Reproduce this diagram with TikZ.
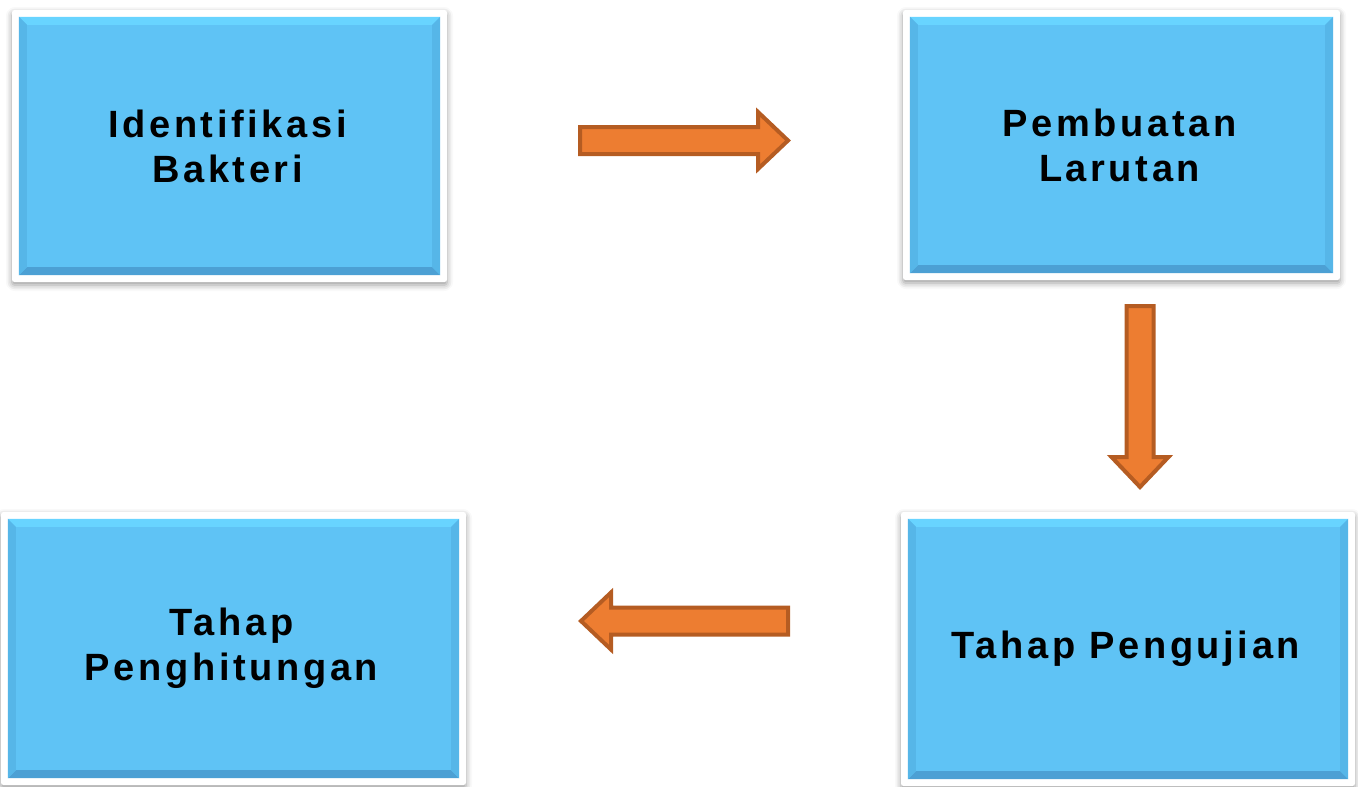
\documentclass[tikz,border=0pt]{standalone}
\usepackage{fontspec}
\newfontfamily\stagefont[LetterSpace=9.5]{Liberation Sans Bold}
\usetikzlibrary{calc,shadows.blur}
\definecolor{boxblue}{RGB}{95,195,245}
\definecolor{bevtop}{RGB}{104,212,255}
\definecolor{bevbot}{RGB}{76,160,212}
\definecolor{bevside}{RGB}{86,182,232}
\definecolor{arrfill}{RGB}{237,125,49}
\definecolor{arrdraw}{RGB}{181,92,34}
\tikzset{
  frame/.style={fill=white, draw=none, rounded corners=2.5pt, inner sep=0pt,
    blur shadow={shadow xshift=0pt, shadow yshift=-3pt, shadow blur radius=6pt, shadow opacity=40}},
  stagetext/.style={align=center, text=black, inner sep=0pt, xshift=-2pt,
    font=\stagefont\fontsize{38}{45}\selectfont},
  barrow/.style={fill=arrfill, draw=arrdraw, line width=4pt, line join=miter},
}
\newcommand\bevelbox[1]{%
  \coordinate (#1i1) at ($(#1.north west)+(7,7)$);
  \coordinate (#1i2) at ($(#1.south east)+(-7,-7)$);
  \fill[boxblue] (#1i1) rectangle (#1i2);
  \fill[bevtop] (#1i1) -- (#1i1 -| #1i2) -- ($(#1i1 -| #1i2)+(-8,8)$) -- ($(#1i1)+(8,8)$) -- cycle;
  \fill[bevbot] (#1i2) -- (#1i2 -| #1i1) -- ($(#1i2 -| #1i1)+(8,-8)$) -- ($(#1i2)+(-8,-8)$) -- cycle;
  \fill[bevside] (#1i1) -- (#1i2 -| #1i1) -- ($(#1i2 -| #1i1)+(8,-8)$) -- ($(#1i1)+(8,8)$) -- cycle;
  \fill[bevside] (#1i2) -- (#1i1 -| #1i2) -- ($(#1i1 -| #1i2)+(-8,8)$) -- ($(#1i2)+(-8,-8)$) -- cycle;
}
% block arrow: start coordinate, angle, length
\newcommand\blockarrow[3]{%
  \begin{scope}[shift={(#1)}, rotate=#2]
    \draw[barrow] (0,-13.5) -- (#3-30,-13.5) -- (#3-30,-28.5) -- (#3,0) -- (#3-30,28.5) -- (#3-30,13.5) -- (0,13.5) -- cycle;
  \end{scope}}
\begin{document}
\begin{tikzpicture}[x=1pt,y=-1pt]
\useasboundingbox (0,0) rectangle (1358,787);
% frames
\node[frame, minimum width=435, minimum height=272] (f1) at (229.5,146) {};
\node[frame, minimum width=437, minimum height=270] (f2) at (1121.5,145) {};
\node[frame, minimum width=454, minimum height=274] (f3) at (1128,649) {};
\node[frame, minimum width=465, minimum height=273] (f4) at (233.5,648.5) {};
\bevelbox{f1}
\bevelbox{f2}
\bevelbox{f3}
\bevelbox{f4}
\node[stagetext] (s1) at (f1) {Identifikasi\\Bakteri};
\node[stagetext] (s2) at (f2) {Pembuatan\\Larutan};
\node[stagetext] (s3) at (f3) {Tahap Pengujian};
\node[stagetext] (s4) at (f4) {Tahap\\Penghitungan};
% arrows
\coordinate (a1) at (580,140.5);
\coordinate (a2) at (1140,306);
\coordinate (a3) at (788,621);
\blockarrow{a1}{0}{208}
\blockarrow{a2}{-90}{181}
\blockarrow{a3}{180}{207}
\end{tikzpicture}
\end{document}
